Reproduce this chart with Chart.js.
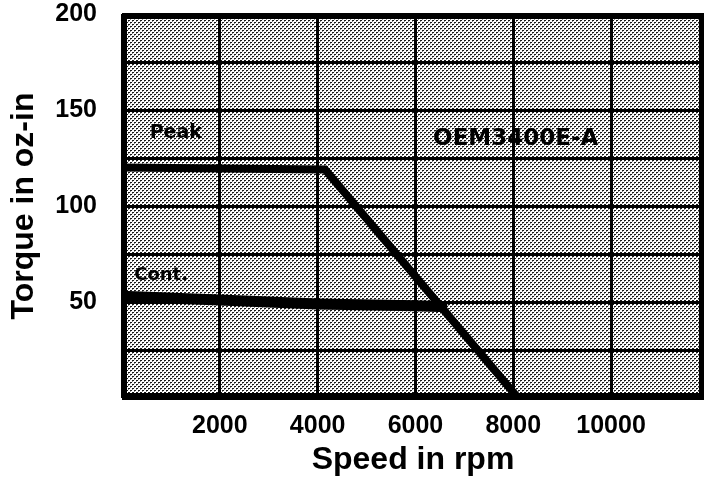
<!DOCTYPE html>
<html><head><meta charset="utf-8">
<script src="https://cdn.jsdelivr.net/npm/chart.js@4.4.1/dist/chart.umd.min.js"></script>
<style>html,body{margin:0;padding:0;background:#fff;}#wrap{width:706px;height:479px;}</style>
</head><body><div id="wrap"><canvas id="c" width="706" height="479"></canvas></div>
<script>
const peakSpeed = [0, 4150, 8100];
const peakTorque = [120, 119, 0];
const contSpeed = [0, 2000, 4000, 6000, 6650];
const contTorque = [53, 51, 49, 48, 47.5];
const xTickLabels = [2000, 4000, 6000, 8000, 10000];
const yTickLabels = [50, 100, 150, 200];
const notes = [
  {text: 'Peak', x: 1100, y: 138, font: 'bold 19px "DejaVu Sans", sans-serif'},
  {text: 'OEM3400E-A', x: 8050, y: 135, font: 'bold 23px "DejaVu Sans", sans-serif'},
  {text: 'Cont.', x: 800, y: 64, font: 'bold 18px "DejaVu Sans", sans-serif'}
];

function makePattern(ctx) {
  const p = document.createElement('canvas');
  p.width = 4; p.height = 4;
  const g = p.getContext('2d');
  g.fillStyle = '#ffffff'; g.fillRect(0, 0, 4, 4);
  g.fillStyle = '#1a1a1a';
  [[0,0],[1,0],[2,2],[3,2]].forEach(([x,y]) => g.fillRect(x, y, 1, 1));
  g.fillStyle = '#888';
  [[0,1],[2,3]].forEach(([x,y]) => g.fillRect(x, y, 1, 1));
  return ctx.createPattern(p, 'repeat');
}

const bgPlugin = {
  id: 'bg',
  beforeDraw(chart) {
    const {ctx, chartArea: a} = chart;
    ctx.save();
    ctx.fillStyle = makePattern(ctx);
    ctx.fillRect(a.left, a.top, a.right - a.left, a.bottom - a.top);
    ctx.restore();
  },
  afterDatasetsDraw(chart) {
    const {ctx, chartArea: a, scales} = chart;
    ctx.save();
    ctx.strokeStyle = '#000'; ctx.lineWidth = 5;
    ctx.strokeRect(a.left + 2.5, a.top + 2.5, a.right - a.left - 5, a.bottom - a.top - 5);
    ctx.fillStyle = '#000'; ctx.textAlign = 'center'; ctx.textBaseline = 'middle';
    notes.forEach(n => {
      ctx.font = n.font;
      ctx.fillText(n.text, scales.x.getPixelForValue(n.x), scales.y.getPixelForValue(n.y));
    });
    ctx.restore();
  }
};

const tickFont = {family: '"Liberation Sans", Arial, sans-serif', size: 25, weight: 'bold'};

new Chart(document.getElementById('c'), {
  type: 'line',
  data: {
    datasets: [
      {label: 'Peak', data: peakSpeed.map((s, i) => ({x: s, y: peakTorque[i]})),
       borderColor: '#000', borderWidth: 8, pointRadius: 0, tension: 0, fill: false},
      {label: 'Cont.', data: contSpeed.map((s, i) => ({x: s, y: contTorque[i]})),
       borderColor: '#000', borderWidth: 11, pointRadius: 0, tension: 0, fill: false}
    ]
  },
  options: {
    responsive: false,
    animation: false,
    layout: {padding: {top: 14, right: 2, left: 0, bottom: 0}},
    plugins: {legend: {display: false}, tooltip: {enabled: false}},
    scales: {
      x: {
        type: 'linear', min: 0, max: 11900,
        afterFit(s) { s.height = 81; s.paddingLeft = 0; s.paddingRight = 0; },
        afterBuildTicks(s) { s.ticks = [0, 2000, 4000, 6000, 8000, 10000].map(v => ({value: v})); },
        ticks: {
          color: '#000', font: tickFont, padding: 13, maxRotation: 0,
          callback: v => xTickLabels.includes(v) ? String(v) : ''
        },
        grid: {color: '#000', lineWidth: 3, drawTicks: false},
        border: {display: false},
        title: {display: true, text: 'Speed in rpm', color: '#000', padding: {top: 0, bottom: 0},
                font: {family: '"Liberation Sans", Arial, sans-serif', size: 32, weight: 'bold'}}
      },
      y: {
        min: 0, max: 200,
        afterFit(s) { s.width = 122; s.paddingTop = 0; s.paddingBottom = 0; },
        ticks: {
          stepSize: 25, color: '#000', font: tickFont, padding: 25,
          callback: v => yTickLabels.includes(v) ? String(v) : ''
        },
        grid: {color: '#000', lineWidth: 3, drawTicks: false},
        border: {display: false},
        title: {display: true, text: 'Torque in oz-in', color: '#000', padding: {top: 5, bottom: 0},
                font: {family: '"Liberation Sans", Arial, sans-serif', size: 32, weight: 'bold'}}
      }
    }
  },
  plugins: [bgPlugin]
});
</script>
</body></html>
